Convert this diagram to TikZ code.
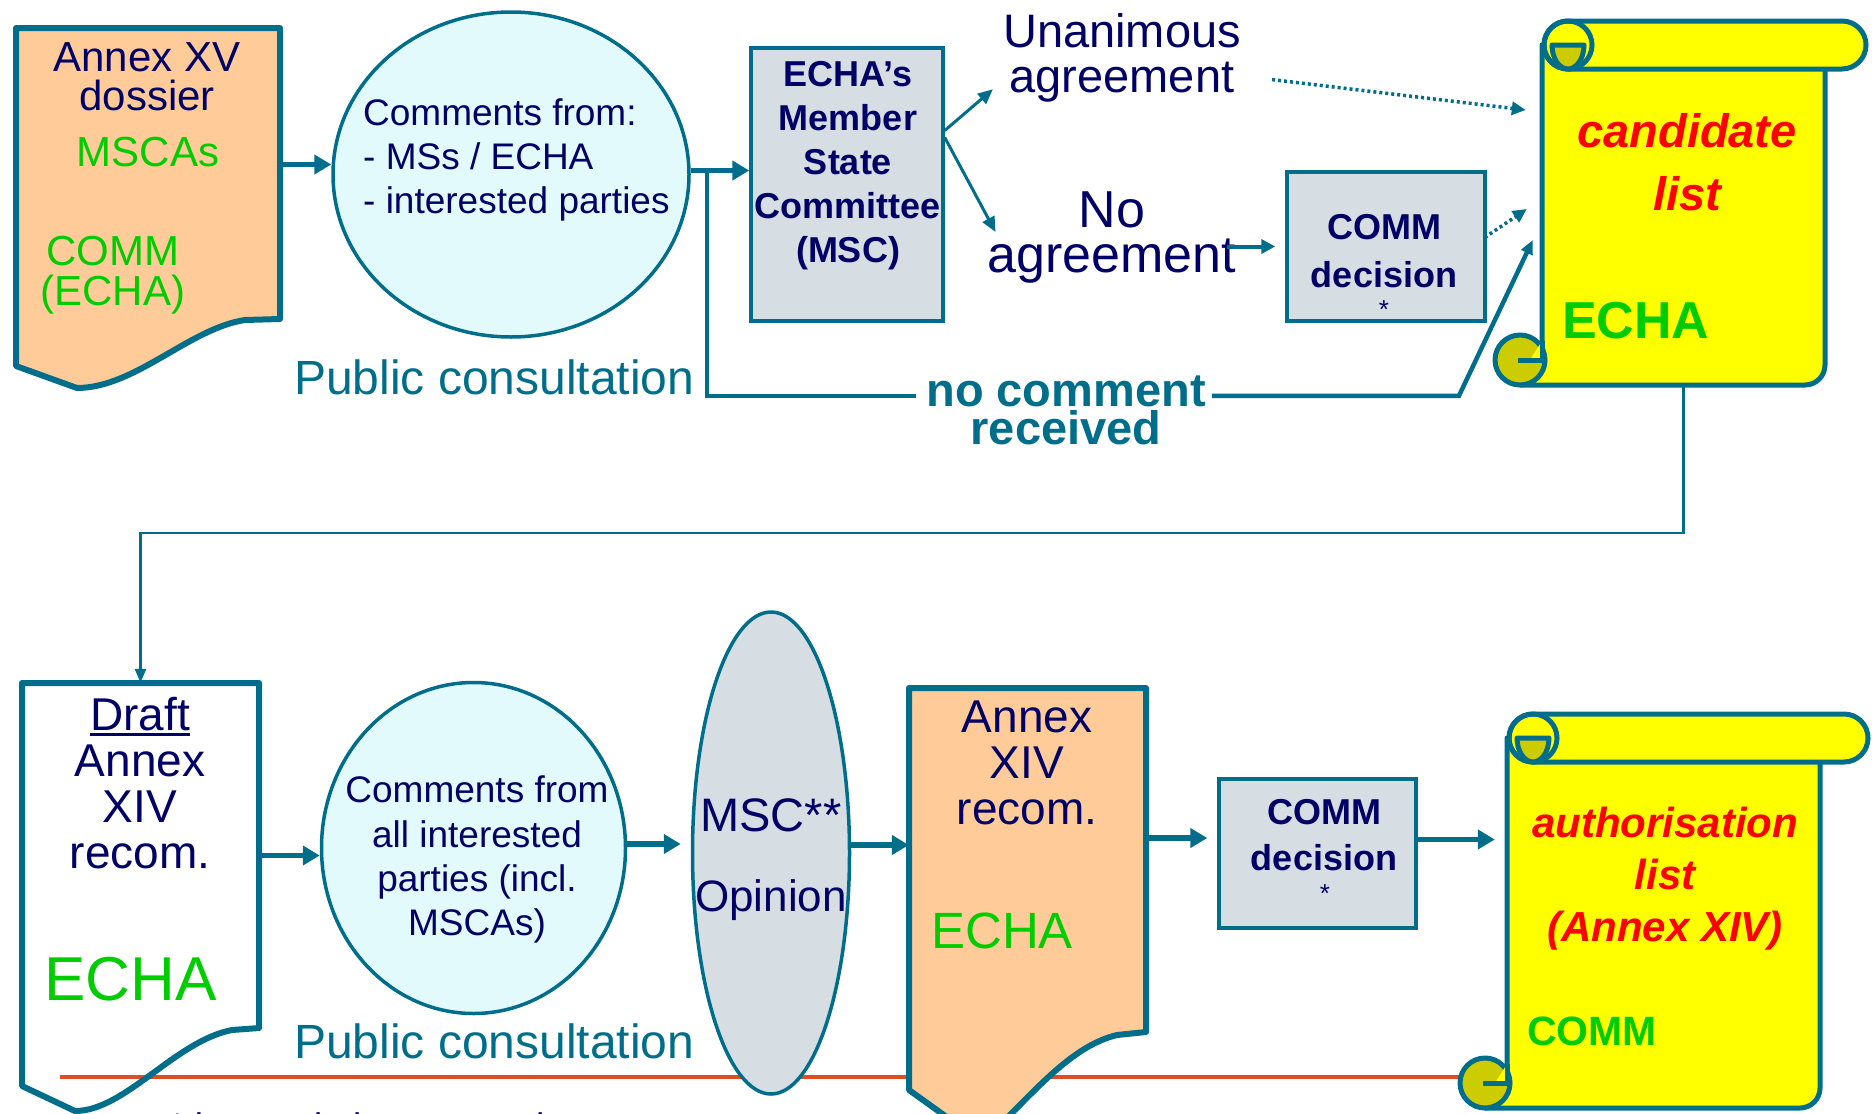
\documentclass[tikz,border=0pt]{standalone}
\usepackage{fontspec}
\setmainfont{Liberation Sans}
\usetikzlibrary{shapes.geometric, arrows.meta, positioning, calc}

\definecolor{echateal}{RGB}{0,110,138}
\definecolor{echanavy}{RGB}{0,0,102}
\definecolor{echagreen}{RGB}{0,204,0}
\definecolor{dossierfill}{RGB}{255,204,153}
\definecolor{bubblefill}{RGB}{226,250,252}
\definecolor{panelfill}{RGB}{214,222,228}
\definecolor{scrollfill}{RGB}{255,255,0}
\definecolor{curlfill}{RGB}{204,204,0}
\definecolor{rulecol}{RGB}{222,78,34}
\definecolor{listred}{RGB}{255,0,0}

% underline with a fixed rule below the baseline
\newcommand{\undl}[1]{\setbox0=\hbox{#1}\rlap{\rule[-6pt]{\wd0}{3pt}}\box0}

% scroll: left, top, right, bottom of the sheet, right end of the roll
\newcommand{\drawscroll}[5]{%
  \filldraw[scrolledge, fill=scrollfill] (#1,#2+24) -- (#1,#4-25) -- (#1-22,#4)
    -- (#3-20,#4) arc[start angle=90, end angle=0, radius=20] -- (#3,#2+24) -- cycle;
  \filldraw[scrolledge, fill=curlfill] (#1-22,#4-25) circle[radius=25];
  \fill[scrollfill] (#1-12,#4-25) -- (#1,#4-25) -- (#1,#4-44) -- cycle;
  \draw[scrolledge] (#1-24,#4-25) -- (#1,#4-25) -- (#1,#4-44);
  \filldraw[scrolledge, fill=scrollfill] (#1+26,#2) -- (#5-24,#2)
    arc[start angle=-90, end angle=90, radius=24] -- (#1+26,#2+48)
    arc[start angle=90, end angle=270, radius=24] -- cycle;
  \draw[scrolledge] (#1+26,#2+24) circle[radius=24];
  \filldraw[scrolledge, fill=curlfill] (#1+10,#2+24) -- (#1+42,#2+24)
    arc[start angle=0, end angle=180, x radius=16, y radius=24] -- cycle;
}

\begin{document}
\begin{tikzpicture}[x=1pt, y=-1pt,
  doc/.style={draw=echateal, line width=6pt, line join=round},
  scrolledge/.style={draw=echateal, line width=5pt, line join=round},
  panel/.style={draw=echateal, line width=3.5pt, fill=panelfill, inner sep=0pt},
  bubble/.style={ellipse, draw=echateal, line width=3.5pt, fill=bubblefill, inner sep=0pt},
  hole/.style={inner sep=0pt},
  lbl/.style={inner sep=0pt, align=center, text=echanavy},
  fat/.style={echateal, line width=5.5pt, -{Triangle[length=17pt,width=19pt]}},
  slim/.style={echateal, line width=3pt, -{Triangle[length=15pt,width=13pt]}},
  midarrow/.style={echateal, line width=4pt, -{Triangle[length=14pt,width=14pt]}},
  dotarrow/.style={echateal, line width=3.5pt, dash pattern=on 3pt off 3pt, -{Triangle[length=14pt,width=13pt]}},
  feed/.style={echateal, line width=4.5pt},
]
\useasboundingbox (0,0) rectangle (1872,1114);

\draw[rulecol, line width=4pt] (60,1077) -- (1470,1077);

% upper row
\draw[doc, fill=dossierfill] (16,28) -- (280,28) -- (280,319) -- (245,320)
  .. controls (190,328) and (135,388) .. (77,388) -- (16,366) -- cycle;
\node[hole, minimum width=264pt, minimum height=291pt] (xvdossier) at (148,173.5) {};
\node[bubble, minimum width=356pt, minimum height=325pt] (xvcomments) at (511,174.5) {};
\node[panel, minimum width=192pt, minimum height=273pt] (msc) at (847,184.5) {};
\node[panel, minimum width=198pt, minimum height=149pt] (commdecision) at (1386,246.5) {};
\drawscroll{1542}{21}{1825}{385}{1866}
\node[hole, minimum width=283pt, minimum height=364pt] (candidate) at (1683.5,203) {};

% lower row
\draw[doc] (22,683) -- (259,683) -- (259,1028) -- (232,1030)
  .. controls (175,1041) and (125,1111) .. (75,1111) -- (22,1086) -- cycle;
\node[hole, minimum width=237pt, minimum height=345pt] (draft) at (140.5,855.5) {};
\node[bubble, minimum width=304pt, minimum height=331pt] (xivcomments) at (473.5,848) {};
\node[bubble, fill=panelfill, minimum width=157pt, minimum height=482pt] (opinion) at (771,853) {};
\draw[doc, fill=dossierfill] (909,688) -- (1146,688) -- (1146,1032) -- (1117,1035)
  .. controls (1075,1045) and (1040,1085) .. (1000,1125) -- (962,1128) -- (909,1090) -- cycle;
\node[hole, minimum width=237pt, minimum height=344pt] (xivrecom) at (1027.5,860) {};
\node[panel, minimum width=197pt, minimum height=149pt] (commfinal) at (1317.5,853.5) {};
\drawscroll{1507}{714}{1820}{1108}{1868}
\node[hole, minimum width=313pt, minimum height=394pt] (authlist) at (1663.5,911) {};

% texts, upper row
\node[lbl, anchor=north, font=\fontsize{42}{39}\selectfont] (xvtitle) at (147,42) {Annex XV\\dossier};
\node[lbl, text=echagreen, anchor=base, font=\fontsize{42}{40}\selectfont] (xvmscas) at (148,166) {MSCAs};
\node[lbl, text=echagreen, anchor=north, font=\fontsize{42}{40}\selectfont] (xvcomm) at (113,236) {COMM\\(ECHA)};
\node[lbl, align=left, anchor=north west, font=\fontsize{37}{44}\selectfont] (xvcommentstxt) at (363,99)
  {Comments from:\\- MSs / ECHA\\- interested parties};
\node[lbl, text=echateal, anchor=base west, font=\fontsize{48}{56}\selectfont] (pubtop) at (294,394) {Public consultation};
\node[lbl, anchor=north, font=\fontsize{36}{44}\selectfont\bfseries] (msctxt) at (848,61)
  {ECHA’s\\Member\\State\\Committee\\(MSC)};
\node[lbl, anchor=north, font=\fontsize{47}{45}\selectfont] (unanimous) at (1122,13) {Unanimous\\agreement};
\node[lbl, anchor=north, font=\fontsize{52}{45}\selectfont] (noagreement) at (1112,192) {No\\agreement};
\node[lbl, anchor=north, font=\fontsize{36}{48}\selectfont\bfseries] (commdecisiontxt) at (1384,214) {COMM\\decision};
\node[lbl, font=\fontsize{26}{26}\selectfont] (commdecisionstar) at (1384,310) {*};
\node[lbl, text=listred, anchor=north, font=\fontsize{47}{63}\selectfont\bfseries\itshape] (candtxt) at (1687,113) {candidate\\list};
\node[lbl, text=echagreen, anchor=base west, font=\fontsize{52}{60}\selectfont\bfseries] (candecha) at (1562,338) {ECHA};
\node[lbl, text=echateal, anchor=base, font=\fontsize{47}{47}\selectfont\bfseries] (nocomment) at (1066,406) {no comment};
\node[lbl, text=echateal, anchor=base, font=\fontsize{47}{47}\selectfont\bfseries] (received) at (1066,444) {received};

% texts, lower row
\node[lbl, anchor=north, font=\fontsize{46}{46}\selectfont] (drafttxt) at (140,697) {\undl{Draft}\\Annex\\XIV\\recom.};
\node[lbl, text=echagreen, anchor=base west, font=\fontsize{62}{62}\selectfont] (draftecha) at (44,1000) {ECHA};
\node[lbl, anchor=north, font=\fontsize{37}{44.3}\selectfont] (xivcommentstxt) at (477,776)
  {Comments from\\all interested\\parties (incl.\\MSCAs)};
\node[lbl, text=echateal, anchor=base west, font=\fontsize{48}{56}\selectfont] (pubbot) at (294,1058) {Public consultation};
\node[lbl, anchor=base, font=\fontsize{47}{47}\selectfont] (opiniontop) at (771,831) {MSC**};
\node[lbl, anchor=base, font=\fontsize{44}{44}\selectfont] (opinionbottom) at (771,911) {Opinion};
\node[lbl, anchor=north, font=\fontsize{46}{46}\selectfont] (xivtxt) at (1027,701) {Annex\\XIV\\recom.};
\node[lbl, text=echagreen, anchor=base west, font=\fontsize{51}{51}\selectfont] (xivecha) at (931,948) {ECHA};
\node[lbl, anchor=north, font=\fontsize{36}{46}\selectfont\bfseries] (commfinaltxt) at (1324,799) {COMM\\decision};
\node[lbl, font=\fontsize{26}{26}\selectfont] (commfinalstar) at (1325,894) {*};
\node[lbl, text=listred, anchor=north, font=\fontsize{42}{52}\selectfont\bfseries\itshape] (authtxt) at (1665,807)
  {authorisation\\list\\(Annex XIV)};
\node[lbl, text=echagreen, anchor=base west, font=\fontsize{41}{41}\selectfont\bfseries] (authcomm) at (1527,1045) {COMM};
\node[lbl, anchor=base west, font=\fontsize{37}{44}\selectfont] (footnote) at (170,1139) {* by comitology procedure};

% connectors, upper row
\draw[fat] ($(xvdossier.east)+(0,-9)$) -- ($(xvdossier.east -| xvcomments.west)+(0,-9)$);
\draw[fat] ($(xvcomments.east)+(0,-4)$) -- ($(xvcomments.east -| msc.west)+(0,-4)$);
\coordinate (split) at ($(xvcomments.east)+(16,-4)$);
\draw[feed] (split) |- ($(nocomment.west)+(-10,5)$);
\draw[feed, -{Triangle[length=14pt,width=12pt]}] ($(nocomment.east)+(6,5)$) -- ++(247,0)
  -- ($(candidate.west)+(-9,37)$);
\draw[slim] ($(msc.east)+(0,-54)$) -- ($(unanimous.south west)+(-10,-13)$);
\draw[slim] ($(msc.east)+(0,-47)$) -- ($(noagreement.north west)+(8,40)$);
\draw[dotarrow] ($(unanimous.east)+(31,22)$) -- ($(candidate.west)+(-16,-93)$);
\draw[midarrow] ($(noagreement.east |- commdecision.west)+(-10,0)$) -- ($(commdecision.west)+(-10,0)$);
\draw[dotarrow] ($(commdecision.east)+(-2,-9)$) -- ($(candidate.west)+(-15,6)$);
\draw[echateal, line width=2.5pt, -{Triangle[length=14pt,width=11pt]}] (candidate.south) -- ++(0,148) -| (draft.north);

% connectors, lower row
\draw[fat] (draft.east) -- (draft.east -| xivcomments.west);
\draw[fat] ($(xivcomments.east)+(0,-4)$) -- ($(xivcomments.east -| opinion.west)+(-10,-4)$);
\draw[fat] ($(opinion.east)+(0,-8)$) -- ($(opinion.east -| xivrecom.west)+(0,-8)$);
\draw[fat] ($(xivrecom.east)+(0,-22)$) -- ($(xivrecom.east -| commfinal.west)+(-10,-22)$);
\draw[fat] ($(commfinal.east)+(0,-14)$) -- ($(commfinal.east -| authlist.west)+(-12,-14)$);
\end{tikzpicture}
\end{document}
